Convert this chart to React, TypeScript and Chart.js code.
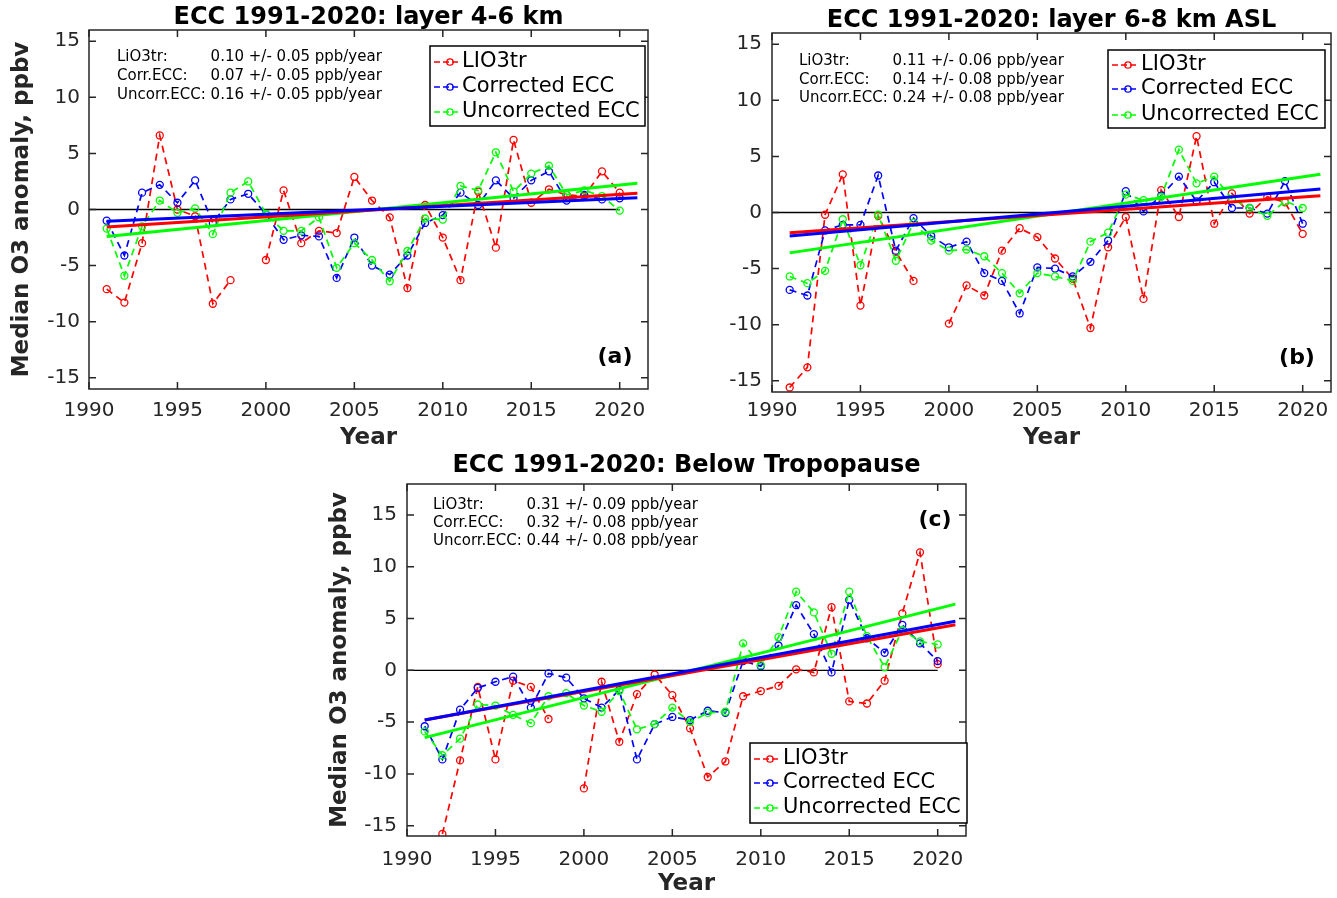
import React, { useEffect, useRef } from "react";
import { Chart, registerables } from "chart.js";

Chart.register(...registerables);

// ---------------- data ----------------
const YEARS = [
  1991, 1992, 1993, 1994, 1995, 1996, 1997, 1998, 1999, 2000,
  2001, 2002, 2003, 2004, 2005, 2006, 2007, 2008, 2009, 2010,
  2011, 2012, 2013, 2014, 2015, 2016, 2017, 2018, 2019, 2020,
];
const X_TICKS = [1990, 1995, 2000, 2005, 2010, 2015, 2020];
const Y_TICKS = [-15, -10, -5, 0, 5, 10, 15];
const ZERO_X = [1990, 2020];
const ZERO_Y = [0, 0];
const TREND_X = [1991, 2021];

const SERIES_NAMES = ["LIO3tr", "Corrected ECC", "Uncorrected ECC"];
const ANNOT_NAMES = ["LiO3tr:", "Corr.ECC:", "Uncorr.ECC:"];
const TITLES = [
  "ECC 1991-2020: layer 4-6 km",
  "ECC 1991-2020: layer 6-8 km ASL",
  "ECC 1991-2020: Below Tropopause",
];
const PANEL_TAGS = ["(a)", "(b)", "(c)"];
const X_TITLE = "Year";
const Y_TITLE = "Median O3 anomaly, ppbv";

// panel (a): layer 4-6 km
const A_LIO3TR = [-7.1, -8.3, -3.0, 6.6, 0.0, -0.6, -8.4, -6.3, null, -4.5, 1.7, -3.0, -1.9, -2.1, 2.9, 0.8, -0.7, -7.0, 0.4, -2.5, -6.3, 1.6, -3.4, 6.2, 0.6, 1.8, 1.3, 1.2, 3.4, 1.5];
const A_CORR = [-1.0, -4.1, 1.5, 2.2, 0.6, 2.6, -1.2, 0.9, 1.4, -0.4, -2.7, -2.3, -2.4, -6.1, -2.5, -5.0, -5.8, -4.1, -1.2, -0.5, 1.5, 0.4, 2.6, 1.0, 2.6, 3.4, 0.8, 1.3, 0.9, 1.0];
const A_UNCORR = [-1.7, -5.9, -1.5, 0.8, -0.3, 0.1, -2.2, 1.5, 2.5, -0.4, -1.9, -1.9, -0.7, -5.2, -3.0, -4.5, -6.4, -3.7, -0.8, -0.9, 2.1, 1.7, 5.1, 1.6, 3.2, 3.9, 1.3, 1.7, 1.2, -0.1];
const A_TREND_LIO3TR = [-1.55, 1.45];
const A_TREND_CORR = [-1.05, 1.05];
const A_TREND_UNCORR = [-2.4, 2.35];
const A_RATES = ["0.10 +/- 0.05 ppb/year", "0.07 +/- 0.05 ppb/year", "0.16 +/- 0.05 ppb/year"];

// panel (b): layer 6-8 km ASL
const B_LIO3TR = [-15.6, -13.8, -0.2, 3.4, -8.3, -0.3, -3.5, -6.1, null, -9.9, -6.5, -7.4, -3.4, -1.4, -2.2, -4.1, -5.9, -10.3, -3.1, -0.4, -7.7, 2.0, -0.4, 6.8, -1.0, 1.7, -0.1, 1.4, 0.9, -1.9];
const B_CORR = [-6.9, -7.4, -1.6, -1.1, -1.1, 3.3, -3.4, -0.5, -2.1, -3.1, -2.6, -5.4, -6.1, -9.0, -4.9, -5.0, -5.7, -4.4, -2.5, 1.9, 0.1, 1.5, 3.2, 1.0, 2.7, 0.4, 0.4, -0.1, 2.8, -1.0];
const B_UNCORR = [-5.7, -6.3, -5.2, -0.6, -4.7, -0.2, -4.3, -0.9, -2.5, -3.4, -3.3, -3.9, -5.4, -7.2, -5.4, -5.7, -6.1, -2.6, -1.8, 1.6, 1.1, 1.4, 5.6, 2.6, 3.2, 1.2, 0.4, -0.3, 1.0, 0.4];
const B_TREND_LIO3TR = [-1.8, 1.5];
const B_TREND_CORR = [-2.1, 2.1];
const B_TREND_UNCORR = [-3.6, 3.4];
const B_RATES = ["0.11 +/- 0.06 ppb/year", "0.14 +/- 0.08 ppb/year", "0.24 +/- 0.08 ppb/year"];

// panel (c): below tropopause
const C_LIO3TR = [null, -15.8, -8.7, -1.6, -8.6, -1.0, -1.6, -4.7, null, -11.4, -1.1, -6.9, -2.3, -0.4, -2.4, -5.6, -10.3, -8.8, -2.5, -2.0, -1.5, 0.1, -0.2, 6.1, -3.0, -3.2, -1.0, 5.5, 11.4, 0.6];
const C_CORR = [-5.4, -8.6, -3.8, -1.7, -1.1, -0.6, -3.6, -0.3, -0.7, -2.7, -3.6, -1.9, -8.6, -5.2, -4.5, -4.8, -3.9, -4.1, 0.9, 0.4, 2.4, 6.3, 3.5, -0.2, 6.8, 3.1, 1.7, 4.4, 2.6, 0.9];
const C_UNCORR = [-5.9, -8.2, -6.6, -3.3, -3.4, -4.3, -5.1, -2.5, -2.2, -3.4, -4.0, -2.0, -5.7, -5.2, -3.6, -5.0, -4.1, -4.0, 2.6, 0.5, 3.2, 7.6, 5.6, 1.6, 7.6, 3.3, 0.3, 3.9, 2.8, 2.5];
const C_TREND_LIO3TR = [-4.8, 4.4];
const C_TREND_CORR = [-4.8, 4.75];
const C_TREND_UNCORR = [-6.5, 6.4];
const C_RATES = ["0.31 +/- 0.09 ppb/year", "0.32 +/- 0.08 ppb/year", "0.44 +/- 0.08 ppb/year"];

// ---------------- styling / layout ----------------
const COLORS = ["#ff0000", "#0000ff", "#00ff00"];
const AXIS_COLOR = "#262626";
const FONT = "'DejaVu Sans', 'Liberation Sans', sans-serif";

type Panel = {
  pos: { left: number; top: number; width: number; height: number };
  area: { left: number; right: number; top: number; bottom: number };
  yMin: number;
  yMax: number;
  xMax: number;
  showYTitle: boolean;
  xTitlePad: number;
  xTickPad: number;
  yTickPad: number;
  title: string;
  titleY: number;
  tag: string;
  tagPos: [number, number];
  legend: { left: number; top: number; right: number; bottom: number; rows: number[]; textX: number };
  annot: { x: number; rows: number[] };
  series: (number | null)[][];
  trends: number[][];
  rates: string[];
};

const PANELS: Panel[] = [
  {
    pos: { left: 0, top: 0, width: 680, height: 455 },
    area: { left: 89, right: 648, top: 30, bottom: 389 },
    yMin: -16, yMax: 16, xMax: 2021.6,
    showYTitle: true, xTitlePad: 3, xTickPad: 10, yTickPad: 9,
    title: TITLES[0], titleY: 18,
    tag: PANEL_TAGS[0], tagPos: [615, 357],
    legend: { left: 430, top: 46, right: 645, bottom: 126, rows: [62, 87, 112], textX: 462 },
    annot: { x: 117, rows: [57, 76, 95] },
    series: [A_LIO3TR, A_CORR, A_UNCORR],
    trends: [A_TREND_LIO3TR, A_TREND_CORR, A_TREND_UNCORR],
    rates: A_RATES,
  },
  {
    pos: { left: 680, top: 0, width: 657, height: 455 },
    area: { left: 92, right: 651, top: 33, bottom: 392 },
    yMin: -16, yMax: 16, xMax: 2021.6,
    showYTitle: false, xTitlePad: 3, xTickPad: 7, yTickPad: 10,
    title: TITLES[1], titleY: 21,
    tag: PANEL_TAGS[1], tagPos: [617, 358],
    legend: { left: 428, top: 50, right: 645, bottom: 128, rows: [65, 89, 115], textX: 461 },
    annot: { x: 119, rows: [61, 80, 98] },
    series: [B_LIO3TR, B_CORR, B_UNCORR],
    trends: [B_TREND_LIO3TR, B_TREND_CORR, B_TREND_UNCORR],
    rates: B_RATES,
  },
  {
    pos: { left: 318, top: 446, width: 680, height: 452 },
    area: { left: 89, right: 648, top: 38, bottom: 390 },
    yMin: -16, yMax: 18, xMax: 2021.6,
    showYTitle: true, xTitlePad: 0, xTickPad: 12, yTickPad: 10,
    title: TITLES[2], titleY: 20,
    tag: PANEL_TAGS[2], tagPos: [617, 74],
    legend: { left: 432, top: 297, right: 649, bottom: 377, rows: [313, 337, 362], textX: 465 },
    annot: { x: 115, rows: [59, 77, 95] },
    series: [C_LIO3TR, C_CORR, C_UNCORR],
    trends: [C_TREND_LIO3TR, C_TREND_CORR, C_TREND_UNCORR],
    rates: C_RATES,
  },
];

function pts(xs: number[], ys: (number | null)[]) {
  return xs.map((x, i) => ({ x, y: ys[i] }));
}

function makeDecor(p: Panel) {
  return {
    id: "decor",
    afterDatasetsDraw(chart: any) {
      const { ctx, chartArea: ca, scales } = chart;
      const xs = scales.x;
      const ys = scales.y;
      ctx.save();
      // axes box
      ctx.strokeStyle = AXIS_COLOR;
      ctx.lineWidth = 1.5;
      ctx.setLineDash([]);
      ctx.strokeRect(ca.left, ca.top, ca.right - ca.left, ca.bottom - ca.top);
      // inward ticks on all four sides
      const tl = 7;
      ctx.beginPath();
      for (const v of X_TICKS) {
        const px = xs.getPixelForValue(v);
        ctx.moveTo(px, ca.bottom);
        ctx.lineTo(px, ca.bottom - tl);
        ctx.moveTo(px, ca.top);
        ctx.lineTo(px, ca.top + tl);
      }
      for (const v of Y_TICKS) {
        const py = ys.getPixelForValue(v);
        ctx.moveTo(ca.left, py);
        ctx.lineTo(ca.left + tl, py);
        ctx.moveTo(ca.right, py);
        ctx.lineTo(ca.right - tl, py);
      }
      ctx.stroke();

      // title
      ctx.fillStyle = "#000";
      ctx.font = `bold 24px ${FONT}`;
      ctx.textAlign = "center";
      ctx.textBaseline = "middle";
      ctx.fillText(p.title, (ca.left + ca.right) / 2, p.titleY);

      // rate annotation (values aligned after the longest label)
      ctx.font = `15px ${FONT}`;
      ctx.textAlign = "left";
      const valX = p.annot.x + ctx.measureText(ANNOT_NAMES[2] + " ").width;
      ANNOT_NAMES.forEach((n, i) => {
        ctx.fillText(n, p.annot.x, p.annot.rows[i]);
        ctx.fillText(p.rates[i], valX, p.annot.rows[i]);
      });

      // panel tag
      ctx.font = `bold 22px ${FONT}`;
      ctx.textAlign = "center";
      ctx.fillText(p.tag, p.tagPos[0], p.tagPos[1]);

      // legend
      const L = p.legend;
      ctx.fillStyle = "#fff";
      ctx.fillRect(L.left, L.top, L.right - L.left, L.bottom - L.top);
      ctx.strokeStyle = "#000";
      ctx.lineWidth = 1.5;
      ctx.strokeRect(L.left, L.top, L.right - L.left, L.bottom - L.top);
      SERIES_NAMES.forEach((n, i) => {
        const y = L.rows[i];
        const x0 = L.left + 4;
        ctx.strokeStyle = COLORS[i];
        ctx.lineWidth = 1.7;
        ctx.setLineDash([6, 3]);
        ctx.beginPath();
        ctx.moveTo(x0, y);
        ctx.lineTo(x0 + 24, y);
        ctx.stroke();
        ctx.setLineDash([]);
        ctx.lineWidth = 1.3;
        ctx.beginPath();
        ctx.arc(x0 + 16, y, 3.2, 0, Math.PI * 2);
        ctx.stroke();
        ctx.fillStyle = "#000";
        ctx.font = `21px ${FONT}`;
        ctx.textAlign = "left";
        ctx.textBaseline = "middle";
        ctx.fillText(n, L.textX, y);
      });
      ctx.restore();
    },
  };
}

function buildConfig(p: Panel): any {
  const datasets: any[] = [];
  // trend lines (drawn on top)
  [1, 0, 2].forEach((k) => {
    datasets.push({
      data: pts(TREND_X, p.trends[k]),
      borderColor: COLORS[k],
      borderWidth: 3,
      pointRadius: 0,
      fill: false,
      tension: 0,
    });
  });
  // dashed anomaly series
  [2, 1, 0].forEach((k) => {
    datasets.push({
      data: pts(YEARS, p.series[k]),
      borderColor: COLORS[k],
      borderWidth: 1.7,
      borderDash: [7, 5],
      pointRadius: 3.5,
      pointBorderWidth: 1.3,
      pointBorderColor: COLORS[k],
      pointBackgroundColor: "rgba(0,0,0,0)",
      spanGaps: false,
      fill: false,
      tension: 0,
    });
  });
  // zero line
  datasets.push({
    data: pts(ZERO_X, ZERO_Y),
    borderColor: "#000",
    borderWidth: 1.4,
    pointRadius: 0,
    fill: false,
  });

  const W = p.pos.width;
  const H = p.pos.height;
  const a = p.area;
  return {
    type: "line",
    data: { datasets },
    plugins: [makeDecor(p)],
    options: {
      animation: false,
      responsive: false,
      maintainAspectRatio: false,
      events: [],
      layout: { padding: { top: a.top, right: W - a.right, bottom: 0, left: 0 } },
      plugins: {
        legend: { display: false },
        tooltip: { enabled: false },
        title: { display: false },
      },
      scales: {
        x: {
          type: "linear",
          min: 1990,
          max: p.xMax,
          grid: { display: false, drawTicks: false },
          border: { display: false },
          afterBuildTicks: (s: any) => {
            s.ticks = X_TICKS.map((v) => ({ value: v }));
          },
          afterFit: (s: any) => {
            s.height = H - a.bottom;
          },
          ticks: {
            autoSkip: false,
            maxRotation: 0,
            padding: p.xTickPad,
            color: AXIS_COLOR,
            font: { family: FONT, size: 20 },
            callback: (v: any) => String(v),
          },
          title: {
            display: true,
            text: X_TITLE,
            color: AXIS_COLOR,
            font: { family: FONT, size: 23, weight: "bold" },
            padding: { top: 0, bottom: p.xTitlePad },
          },
        },
        y: {
          type: "linear",
          min: p.yMin,
          max: p.yMax,
          grid: { display: false, drawTicks: false },
          border: { display: false },
          afterBuildTicks: (s: any) => {
            s.ticks = Y_TICKS.map((v) => ({ value: v }));
          },
          afterFit: (s: any) => {
            s.width = a.left;
          },
          ticks: {
            padding: p.yTickPad,
            color: AXIS_COLOR,
            font: { family: FONT, size: 20 },
            callback: (v: any) => String(v),
          },
          title: {
            display: p.showYTitle,
            text: Y_TITLE,
            color: AXIS_COLOR,
            font: { family: FONT, size: 23, weight: "bold" },
            padding: { top: 8, bottom: 0 },
          },
        },
      },
    },
  };
}

function PanelChart({ p }: { p: Panel }) {
  const ref = useRef<HTMLCanvasElement | null>(null);
  useEffect(() => {
    if (!ref.current) return;
    const chart = new Chart(ref.current, buildConfig(p));
    return () => chart.destroy();
  }, [p]);
  return (
    <canvas
      ref={ref}
      width={p.pos.width}
      height={p.pos.height}
      style={{
        position: "absolute",
        left: p.pos.left,
        top: p.pos.top,
        width: p.pos.width,
        height: p.pos.height,
        display: "block",
      }}
    />
  );
}

export default function App() {
  return (
    <div
      style={{
        position: "absolute",
        left: 0,
        top: 0,
        width: 1337,
        height: 898,
        overflow: "hidden",
        background: "#fff",
      }}
    >
      {PANELS.map((p, i) => (
        <PanelChart key={i} p={p} />
      ))}
    </div>
  );
}
